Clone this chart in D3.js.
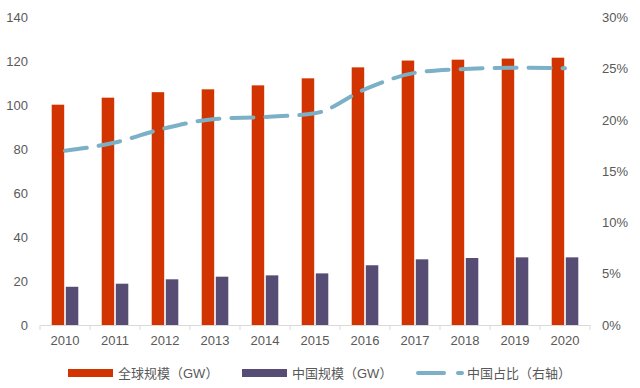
<!DOCTYPE html>
<html>
<head>
<meta charset="utf-8">
<script src="https://cdn.jsdelivr.net/npm/d3@7"></script>
<style>
  body { margin: 0; background: #fff; }
  text { font-family: "Liberation Sans", Arial, "Noto Sans CJK SC", sans-serif; }
</style>
</head>
<body>
<div id="chart"></div>
<script>
const years = ["2010", "2011", "2012", "2013", "2014", "2015", "2016", "2017", "2018", "2019", "2020"];
const globalGW = [100.3, 103.5, 106, 107.3, 109.1, 112.3, 117.3, 120.4, 120.8, 121.3, 121.7];
const chinaGW = [17.4, 18.8, 20.8, 22, 22.6, 23.5, 27.2, 29.9, 30.5, 30.8, 30.8];
const chinaShare = [0.170, 0.178, 0.192, 0.201, 0.203, 0.2065, 0.230, 0.246, 0.2498, 0.251, 0.2505];
const leftTicks = [0, 20, 40, 60, 80, 100, 120, 140];
const rightTicks = [0, 0.05, 0.10, 0.15, 0.20, 0.25, 0.30];
const legendNames = ["全球规模（GW）", "中国规模（GW）", "中国占比（右轴）"];

const width = 640, height = 388;
const colors = ["#D13400", "#574C74", "#7CB0C7"];

const svg = d3.select("#chart").append("svg")
  .attr("width", width)
  .attr("height", height);

const x = d3.scaleBand().domain(years).range([40, 590]);
const yL = d3.scaleLinear().domain([0, 140]).range([325, 17.5]);
const yR = d3.scaleLinear().domain([0, 0.30]).range([325, 17.5]);

// left axis labels
svg.append("g").selectAll("text")
  .data(leftTicks)
  .enter()
  .append("text")
  .attr("x", 28)
  .attr("y", d => yL(d))
  .attr("dy", "0.35em")
  .attr("text-anchor", "end")
  .attr("font-size", 13)
  .attr("fill", "#595959")
  .text(d => d);

// right axis labels
svg.append("g").selectAll("text")
  .data(rightTicks)
  .enter()
  .append("text")
  .attr("x", 602)
  .attr("y", d => yR(d))
  .attr("dy", "0.35em")
  .attr("font-size", 13)
  .attr("fill", "#595959")
  .text(d => d3.format(".0%")(d));

// bars
const barW = 12.5;
svg.append("g").selectAll("rect")
  .data(years)
  .enter()
  .append("rect")
  .attr("x", d => x(d) + x.bandwidth() / 2 - barW - 0.8)
  .attr("y", (d, i) => yL(globalGW[i]))
  .attr("width", barW)
  .attr("height", (d, i) => yL(0) - yL(globalGW[i]))
  .attr("fill", colors[0]);

svg.append("g").selectAll("rect")
  .data(years)
  .enter()
  .append("rect")
  .attr("x", d => x(d) + x.bandwidth() / 2 + 0.8)
  .attr("y", (d, i) => yL(chinaGW[i]))
  .attr("width", barW)
  .attr("height", (d, i) => yL(0) - yL(chinaGW[i]))
  .attr("fill", colors[1]);

// bottom axis
const xAxis = d3.axisBottom(x).tickSize(0).tickPadding(11);
const gx = svg.append("g")
  .attr("transform", `translate(0,${yL(0)})`)
  .call(xAxis);
gx.select(".domain").attr("stroke", "#D9D9D9").attr("stroke-width", 1);
gx.selectAll("text")
  .attr("font-size", 13)
  .attr("fill", "#595959")
  .style("font-family", "'Liberation Sans', Arial, sans-serif");

// boundary tick marks
const bounds = years.map(d => x(d)).concat([x.range()[1]]);
gx.selectAll(".bound")
  .data(bounds)
  .enter()
  .append("line")
  .attr("x1", d => d)
  .attr("x2", d => d)
  .attr("y1", 0)
  .attr("y2", 5)
  .attr("stroke", "#D9D9D9");

// share line
const line = d3.line()
  .x((d, i) => x(years[i]) + x.bandwidth() / 2)
  .y(d => yR(d))
  .curve(d3.curveMonotoneX);

svg.append("path")
  .datum(chinaShare)
  .attr("d", line)
  .attr("fill", "none")
  .attr("stroke", colors[2])
  .attr("stroke-width", 4)
  .attr("stroke-linecap", "round")
  .attr("stroke-dasharray", "22,12");

// legend
const legend = svg.append("g").attr("transform", "translate(0,373)");
const lx = [68, 242, 416];
legend.selectAll("rect")
  .data([0, 1])
  .enter()
  .append("rect")
  .attr("x", d => lx[d])
  .attr("y", -4)
  .attr("width", 45)
  .attr("height", 8)
  .attr("fill", d => colors[d]);

legend.append("line")
  .attr("x1", lx[2] + 2).attr("x2", lx[2] + 28)
  .attr("y1", 0).attr("y2", 0)
  .attr("stroke", colors[2]).attr("stroke-width", 4)
  .attr("stroke-linecap", "round");
legend.append("line")
  .attr("x1", lx[2] + 42).attr("x2", lx[2] + 46)
  .attr("y1", 0).attr("y2", 0)
  .attr("stroke", colors[2]).attr("stroke-width", 4)
  .attr("stroke-linecap", "round");

legend.selectAll(".lt")
  .data(legendNames)
  .enter()
  .append("text")
  .attr("x", (d, i) => lx[i] + (i == 2 ? 51 : 50))
  .attr("y", 0)
  .attr("dy", "0.35em")
  .attr("font-size", 13)
  .attr("fill", "#595959")
  .text(d => d);
</script>
</body>
</html>
